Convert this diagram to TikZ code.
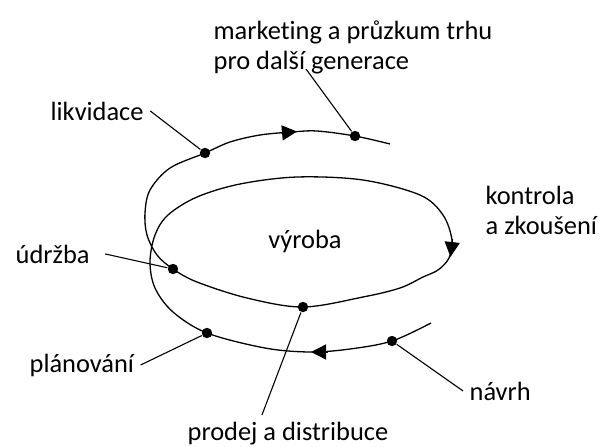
\documentclass[tikz,border=0pt]{standalone}
\usepackage{fontspec}
\setmainfont{Carlito}[Ligatures={NoCommon}]
\usetikzlibrary{arrows.meta}
\tikzset{
  lbl/.style={font=\fontsize{13.2}{15}\selectfont, inner sep=3pt},
  dot/.style={circle, fill, inner sep=0pt, minimum size=5.2pt},
  lead/.style={line width=0.55pt},
  tipmark/.style={-{Triangle[length=7.5pt,width=7.5pt]}},
}
\begin{document}
\begin{tikzpicture}[x=0.5pt,y=-0.5pt,line width=0.65pt]
  \useasboundingbox (0,0) rectangle (600,446);
  % stages sitting on the spiral
  \node[dot] (dnav)  at (392,341) {};
  \node[dot] (dplan) at (207,333) {};
  \node[dot] (dprod) at (303,307) {};
  \node[dot] (dudr)  at (173,269) {};
  \node[dot] (dlik)  at (205,153) {};
  \node[dot] (dmar)  at (355,136) {};
  % the spiral, clockwise from the bottom right
  \draw plot[smooth, tension=0.55] coordinates {
    (431,323) (dnav.center) (350,349) (310,352) (265,348) (dplan.center)
    (173,312) (155,288) (150,262) (155,235) (168,215) (197,197) (240,184)
    (297,177) (363,180) (420,195) (443,215) (452,240) (449,258) (438,270)
    (423,277) (400,288) (363,297) (dprod.center) (247,298) (197,282)
    (dudr.center) (157,255) (147,235) (145,213) (150,190) (170,168)
    (dlik.center) (230,142) (260,135) (292,132) (317,131) (dmar.center)
    (390,144)};
  % direction marks
  \draw[tipmark] (281,133) -- (297,131.5);
  \draw[tipmark] (452.5,239) -- (450.5,257);
  \draw[tipmark] (328,352) -- (311,352);
  % labels
  \node[lbl, anchor=north west, align=left] (mkt) at (207,14)
    {marketing a průzkum trhu\\pro další generace};
  \node[lbl, anchor=base west] (lik) at (44,120) {likvidace};
  \node[lbl, anchor=north west, align=left] (kon) at (479,180)
    {kontrola\\a zkoušení};
  \node[lbl, anchor=base] (vyr) at (305,248) {výroba};
  \node[lbl, anchor=base west] (udr) at (9,263) {údržba};
  \node[lbl, anchor=base west] (plan) at (23,372) {plánování};
  \node[lbl, anchor=base west] (nav) at (463,400) {návrh};
  \node[lbl, anchor=base west] (prod) at (181,440) {prodej a distribuce};
  % leaders
  \coordinate (mfoot) at (306,69);
  \draw[lead] (mfoot) -- (dmar);
  \draw[lead] (lik.east) -- (dlik);
  \draw[lead] ([xshift=4.5pt]udr.east) -- (dudr);
  \draw[lead] (plan.east) -- (dplan);
  \draw[lead] (nav.west) -- (dnav);
  \draw[lead] ([xshift=-13pt]prod.north) -- (dprod);
\end{tikzpicture}
\end{document}
